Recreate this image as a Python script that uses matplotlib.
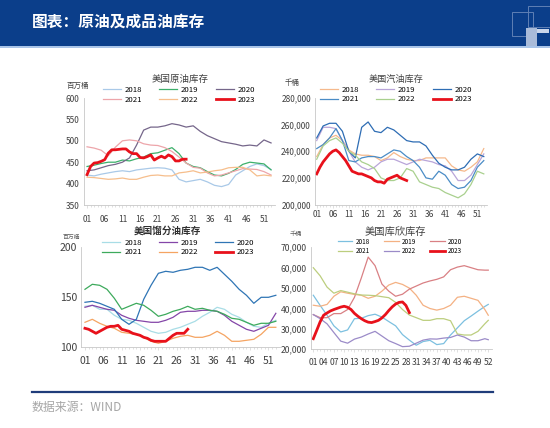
import matplotlib
matplotlib.use("Agg")
import matplotlib.pyplot as plt
from matplotlib.patches import Rectangle
from matplotlib.lines import Line2D
from matplotlib.ticker import FuncFormatter

plt.rcParams['font.family'] = ['Noto Sans CJK SC', 'DejaVu Sans']

W, H = 550, 428

years = ['2018', '2019', '2020', '2021', '2022', '2023']

# weeks sampled for the history years, weekly for 2023
wk_odd = [1, 3, 5, 7, 9, 11, 13, 15, 17, 19, 21, 23, 25, 27, 29, 31, 33, 35, 37, 39, 41, 43, 45, 47, 49, 51, 53]
wk_cush = [1, 3, 5, 7, 9, 11, 13, 15, 17, 19, 21, 23, 25, 27, 29, 31, 33, 35, 37, 39, 41, 43, 45, 47, 49, 51, 52]
wk_2023 = list(range(1, 30))

# 美国原油库存 (百万桶)
crude_2018 = [420, 418, 422, 425, 428, 430, 428, 432, 434, 436, 437, 436, 432, 410, 404, 407, 410, 404, 396, 393, 398, 420, 430, 440, 446, 442, 433]
crude_2019 = [440, 443, 447, 450, 450, 455, 453, 458, 462, 470, 472, 478, 484, 470, 448, 440, 437, 428, 420, 418, 424, 433, 445, 450, 448, 446, 432]
crude_2020 = [430, 432, 437, 442, 445, 450, 460, 490, 525, 532, 532, 535, 540, 537, 532, 535, 522, 512, 505, 498, 495, 492, 488, 490, 488, 502, 495]
crude_2021 = [486, 483, 478, 465, 485, 500, 502, 500, 493, 490, 489, 484, 475, 462, 448, 438, 436, 425, 418, 420, 425, 430, 435, 434, 433, 428, 420]
crude_2022 = [415, 414, 412, 410, 411, 413, 410, 410, 415, 419, 420, 418, 418, 425, 427, 430, 425, 427, 430, 432, 437, 438, 438, 432, 418, 420, 418]
crude_2023 = [421, 440, 448, 449, 452, 456, 471, 479, 479, 480, 481, 481, 474, 470, 470, 461, 460, 463, 467, 455, 460, 464, 460, 467, 463, 453, 453, 457, 457]

# 美国汽油库存 (千桶)
gas_2018 = [236000, 245000, 250000, 252000, 248000, 241000, 238000, 237000, 237000, 236000, 233000, 235000, 239000, 236000, 234000, 233000, 233000, 235000, 235000, 235000, 235000, 229000, 226000, 225000, 228000, 232000, 242000]
gas_2019 = [248000, 258000, 258000, 257000, 248000, 240000, 232000, 228000, 226000, 228000, 232000, 234000, 234000, 232000, 230000, 232000, 234000, 233000, 232000, 230000, 229000, 225000, 218000, 218000, 222000, 230000, 238000]
gas_2020 = [250000, 259000, 261000, 261000, 255000, 240000, 235000, 258000, 262000, 255000, 254000, 258000, 256000, 252000, 248000, 247000, 247000, 244000, 237000, 231000, 228000, 226000, 226000, 228000, 234000, 238000, 236000]
gas_2021 = [242000, 245000, 250000, 257000, 248000, 233000, 232000, 235000, 236000, 236000, 235000, 238000, 241000, 240000, 236000, 233000, 228000, 220000, 219000, 225000, 222000, 215000, 212000, 213000, 218000, 228000, 233000]
gas_2022 = [234000, 244000, 248000, 250000, 246000, 240000, 237000, 232000, 230000, 227000, 220000, 218000, 218000, 220000, 227000, 225000, 217000, 215000, 213000, 212000, 209000, 207000, 205000, 208000, 215000, 225000, 223000]
gas_2023 = [223000, 228000, 232000, 235000, 238000, 240000, 241000, 239000, 236000, 233000, 229000, 225000, 224000, 223000, 223000, 222000, 221000, 220000, 218000, 217000, 217000, 216000, 219000, 220000, 221000, 222000, 220000, 219000, 218000]

# 美国馏分油库存 (百万桶)
dist_2018 = [141, 142, 138, 138, 132, 128, 127, 124, 120, 116, 114, 115, 118, 120, 123, 126, 131, 135, 140, 138, 133, 130, 125, 121, 120, 124, 127]
dist_2019 = [140, 142, 140, 138, 137, 132, 129, 127, 126, 125, 125, 127, 130, 135, 136, 136, 137, 137, 136, 132, 126, 122, 118, 116, 119, 122, 134]
dist_2020 = [145, 146, 144, 141, 138, 128, 123, 128, 148, 162, 174, 176, 175, 177, 178, 180, 180, 177, 180, 173, 166, 158, 152, 144, 150, 150, 152]
dist_2021 = [158, 163, 162, 158, 149, 138, 141, 144, 142, 137, 131, 133, 136, 138, 141, 138, 139, 137, 136, 133, 129, 128, 125, 122, 124, 124, 126]
dist_2022 = [125, 128, 124, 121, 119, 115, 114, 113, 110, 106, 104, 106, 109, 111, 112, 110, 110, 112, 116, 112, 106, 106, 107, 108, 113, 120, 120]
dist_2023 = [119, 118, 116, 114, 116, 118, 120, 121, 121, 122, 118, 117, 116, 114, 113, 112, 110, 109, 107, 106, 106, 106, 106, 109, 112, 114, 114, 114, 118]

# 美国库欣库存 (千桶)
cush_2018 = [46500, 41500, 36700, 31500, 28500, 29500, 35000, 35200, 36500, 37200, 35800, 33600, 31500, 27200, 24500, 22000, 23800, 24400, 22300, 22800, 27000, 30500, 34000, 36300, 38700, 41000, 42000]
cush_2019 = [41600, 41100, 42000, 46000, 48200, 47500, 46900, 46500, 45000, 46000, 48500, 51500, 52800, 51800, 50000, 46500, 41600, 40000, 39200, 40000, 41600, 45500, 46000, 45000, 44000, 39500, 36700]
cush_2020 = [37000, 35500, 35500, 37500, 37500, 39500, 45500, 55000, 65200, 61000, 52000, 48500, 46000, 47000, 49500, 51000, 52500, 53500, 54300, 55500, 59000, 60300, 61000, 60000, 59000, 58800, 58800]
cush_2021 = [60000, 56000, 50500, 47500, 48800, 48000, 47200, 46600, 46500, 46300, 45800, 45300, 43000, 39500, 36800, 35500, 34200, 34200, 35000, 35000, 34000, 27500, 27000, 27000, 28800, 32500, 34200]
cush_2022 = [37000, 35000, 32500, 28200, 24000, 23000, 25000, 26000, 27500, 28800, 26500, 24200, 22800, 21300, 21500, 23000, 24500, 25100, 25000, 25500, 25800, 27000, 26000, 24200, 24200, 25200, 24700]
cush_2023 = [25200, 29300, 33500, 36700, 37800, 38800, 39500, 40100, 40700, 41100, 40600, 39500, 37600, 36200, 35000, 34000, 33300, 33100, 33600, 34200, 35400, 37000, 39000, 40800, 42200, 43000, 43200, 41500, 38000]

RED = '#E8111B'
crude_colors = ['#A9C9E8', '#3DB06B', '#75668A', '#EDA5AA', '#F6BE8C', RED]
gas_colors = ['#F5B98C', '#B9A5D9', '#2E6DB4', '#4A8CC6', '#A9D08E', RED]
dist_colors = ['#A8DDE6', '#8446A8', '#2F75B5', '#3DAA5C', '#F5A462', RED]
cush_colors = ['#7CC0E0', '#F4B183', '#D98084', '#BCCE7E', '#9B8BC8', RED]

fig = plt.figure(figsize=(W / 100, H / 100), dpi=100)

# header band
fig.add_artist(Rectangle((0, 1 - 45.5 / H), 1, 45.5 / H, transform=fig.transFigure, color='#0B3E8A', lw=0))
fig.add_artist(Rectangle((0, 1 - 47.5 / H), 1, 2 / H, transform=fig.transFigure, color='#A9C4E8', lw=0))
fig.text(32 / W, 1 - 22 / H, '图表：原油及成品油库存', color='white', fontsize=11.3,
         fontweight='bold', va='center', ha='left')
# logo
fig.add_artist(Rectangle((512 / W, 1 - 36 / H), 21 / W, 24 / H, transform=fig.transFigure,
                         fill=False, ec='#5F80B5', lw=0.7))
fig.add_artist(Rectangle((528 / W, 1 - 27 / H), 22 / W, 21 / H, transform=fig.transFigure,
                         fill=False, ec='#5F80B5', lw=0.7))
fig.add_artist(Rectangle((526 / W, 1 - 45.5 / H), 11 / W, 18 / H, transform=fig.transFigure,
                         color='#A9BBD9', lw=0))
fig.add_artist(Rectangle((537 / W, 1 - 33 / H), 12 / W, 4 / H, transform=fig.transFigure,
                         color='#C9D5EA', lw=0))

# footer
fig.add_artist(Line2D([32 / W, 493 / W], [1 - 392 / H, 1 - 392 / H], transform=fig.transFigure,
                      color='#1F3C7A', lw=1.6))
fig.text(32 / W, 1 - 408 / H, '数据来源：WIND', color='#A6A6A6', fontsize=8.6, va='center', ha='left')


def add_axes(left, top, right, bottom):
    return fig.add_axes([left / W, 1 - bottom / H, (right - left) / W, (bottom - top) / H])


def style(ax, xticks, xlim, ylim, yticks, yfmt, fs, pad):
    ax.set_xlim(*xlim)
    ax.set_ylim(*ylim)
    for s in ['top', 'right']:
        ax.spines[s].set_visible(False)
    for s in ['left', 'bottom']:
        ax.spines[s].set_color('#C8C8C8')
        ax.spines[s].set_linewidth(0.6)
    ax.set_xticks(xticks)
    ax.set_xticklabels(['%02d' % t for t in xticks])
    ax.set_xticks(range(int(xlim[0]) + 1, int(xlim[1])), minor=True)
    ax.set_yticks(yticks)
    ax.yaxis.set_major_formatter(FuncFormatter(yfmt))
    ax.tick_params(axis='y', length=0, labelsize=fs, colors='#404040', pad=3)
    ax.tick_params(axis='x', which='major', length=2, width=0.4, color='#C8C8C8',
                   labelsize=fs, labelcolor='#404040', pad=pad)
    ax.tick_params(axis='x', which='minor', length=1.2, width=0.4, color='#C8C8C8')


def draw(ax, weeks, hist, cur, colors):
    handles = []
    for vals, c in zip(hist, colors[:5]):
        handles.append(ax.plot(weeks, vals, color=c, lw=0.9)[0])
    handles.append(ax.plot(wk_2023, cur, color=colors[5], lw=2.0)[0])
    return handles


def legend(ax, handles, cx, cy, fs):
    order = [0, 3, 1, 4, 2, 5]
    ax.legend([handles[i] for i in order], [years[i] for i in order], ncol=3, loc='center',
              bbox_to_anchor=(cx / W, 1 - cy / H), bbox_transform=fig.transFigure, frameon=False,
              fontsize=fs, handlelength=2.3, handletextpad=0.5, columnspacing=2.2,
              labelspacing=0.25, borderpad=0)


plain = lambda v, p: '%d' % v
comma = lambda v, p: '{:,}'.format(int(v))

# top-left: crude
ax1 = add_axes(83.5, 98, 274.6, 205)
h = draw(ax1, wk_odd, [crude_2018, crude_2019, crude_2020, crude_2021, crude_2022], crude_2023, crude_colors)
style(ax1, list(range(1, 52, 5)), (0, 54), (350, 600), list(range(350, 601, 50)), plain, 6, 5)
legend(ax1, h, 179, 95, 5.6)
fig.text(180 / W, 1 - 79 / H, '美国原油库存', fontsize=6.8, ha='center', va='center', color='#404040')
fig.text(78 / W, 1 - 86 / H, '百万桶', fontsize=5.4, ha='center', va='center', color='#404040')

# top-right: gasoline
ax2 = add_axes(315.1, 98, 487, 204.5)
h = draw(ax2, wk_odd, [gas_2018, gas_2019, gas_2020, gas_2021, gas_2022], gas_2023, gas_colors)
style(ax2, list(range(1, 52, 5)), (0.5, 54), (200000, 280000), list(range(200000, 280001, 20000)), comma, 6, 2)
legend(ax2, h, 396, 94.5, 5.6)
fig.text(396 / W, 1 - 79 / H, '美国汽油库存', fontsize=6.6, ha='center', va='center', color='#404040')
fig.text(292 / W, 1 - 83 / H, '千桶', fontsize=5.4, ha='center', va='center', color='#404040')

# bottom-left: distillate
ax3 = add_axes(81.3, 247.3, 279.5, 347.3)
h = draw(ax3, wk_odd, [dist_2018, dist_2019, dist_2020, dist_2021, dist_2022], dist_2023, dist_colors)
style(ax3, list(range(1, 52, 5)), (0, 54), (100, 200), [100, 150, 200], plain, 7.5, 4)
legend(ax3, h, 178.5, 247.5, 5.6)
fig.text(167 / W, 1 - 231 / H, '美国馏分油库存', fontsize=6.9, fontweight='bold', ha='center', va='center',
         color='#303030')
fig.text(71 / W, 1 - 237 / H, '百万桶', fontsize=4.2, ha='center', va='center', color='#606060')

# bottom-right: Cushing
ax4 = add_axes(310.9, 247.3, 491.7, 349.3)
h = draw(ax4, wk_cush, [cush_2018, cush_2019, cush_2020, cush_2021, cush_2022], cush_2023, cush_colors)
style(ax4, list(range(1, 53, 3)), (0.3, 53), (20000, 70000), list(range(20000, 70001, 10000)), comma, 6.2, 4)
legend(ax4, h, 400, 246.5, 4.6)
fig.text(395 / W, 1 - 232 / H, '美国库欣库存', fontsize=7.4, ha='center', va='center', color='#404040')
fig.text(296 / W, 1 - 234 / H, '千桶', fontsize=4.5, ha='center', va='center', color='#606060')

fig.savefig('out.png', dpi=100)
